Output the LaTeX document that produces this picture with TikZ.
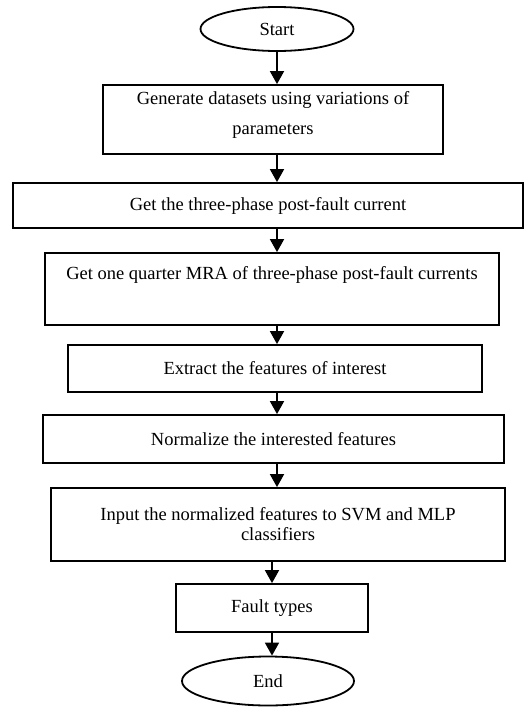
\documentclass[tikz,border=0pt]{standalone}
\usepackage{fontspec}
\setmainfont{Liberation Serif}
\usetikzlibrary{shapes.geometric,arrows.meta}
\begin{document}
\begin{tikzpicture}[x=1pt, y=-1pt, line width=1.8pt,
    every node/.style={font=\fontsize{18.5}{20}\selectfont},
    stepbox/.style={draw, rectangle, align=center, inner sep=0pt},
    term/.style={draw, ellipse, inner sep=0pt},
    arr/.style={-{Triangle[length=13pt,width=14pt]}}]
  \useasboundingbox (0,0) rectangle (529,707);
  \node[term, minimum width=153, minimum height=44] (s) at (277,29) {Start};
  \node[stepbox, minimum width=340, minimum height=69] (gen) at (273,119.5) {Generate datasets using variations of\\[10pt]parameters\\[-7pt]\mbox{}};
  \node[stepbox, minimum width=510, minimum height=45] (cur) at (268,205.5) {Get the three-phase post-fault current};
  \node[stepbox, minimum width=454, minimum height=72] (mra) at (272,289) {Get one quarter MRA of three-phase post-fault currents\\[12pt]\mbox{}};
  \node[stepbox, minimum width=414, minimum height=47] (ext) at (275,368.5) {Extract the features of interest};
  \node[stepbox, minimum width=461, minimum height=48] (nrm) at (273.5,439) {Normalize the interested features};
  \node[stepbox, minimum width=454, minimum height=73] (cls) at (278,524.5) {Input the normalized features to SVM and MLP\\classifiers};
  \node[stepbox, minimum width=192, minimum height=48] (ft) at (272,608) {Fault types};
  \node[term, minimum width=172, minimum height=49] (e) at (268,681) {End};
  % arrows
  \draw[arr] (s) -- (s |- gen.north);
  \draw[arr] (gen.south -| s) -- (cur.north -| s);
  \draw[arr] (cur.south -| s) -- (mra.north -| s);
  \draw[arr] (mra.south -| s) -- (ext.north -| s);
  \draw[arr] (ext.south -| s) -- (nrm.north -| s);
  \draw[arr] (nrm.south -| s) -- (cls.north -| s);
  \draw[arr] (cls.south -| ft) -- (ft.north);
  \draw[arr] (ft.south) -- (ft.south |- e.north);
\end{tikzpicture}
\end{document}
